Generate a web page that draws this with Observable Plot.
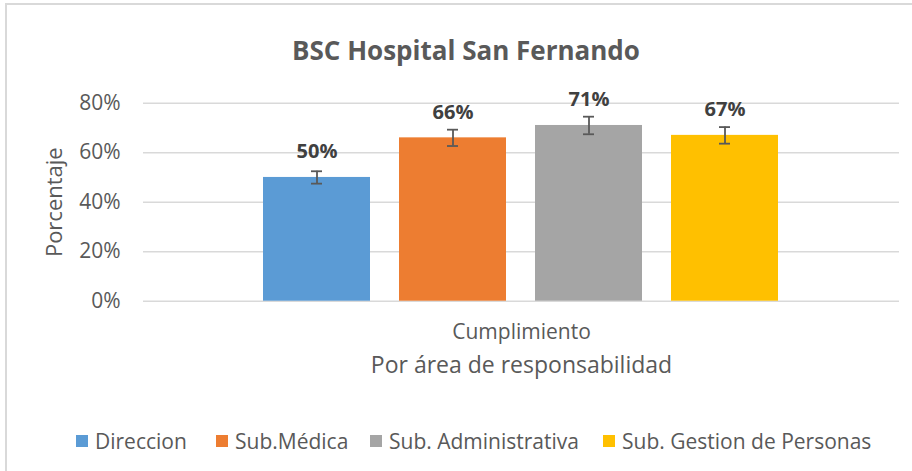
<!DOCTYPE html>
<html>
<head>
<meta charset="utf-8">
<script src="https://cdn.jsdelivr.net/npm/d3@7"></script>
<script src="https://cdn.jsdelivr.net/npm/@observablehq/plot@0.6"></script>
<style>
  html, body { margin: 0; padding: 0; background: #fff; }
  body { width: 912px; height: 471px; position: relative; overflow: hidden; font-family: "Open Sans", sans-serif; }
  .frame-top { position: absolute; left: 5px; top: 3px; width: 907px; height: 0; border-top: 2px solid #d9d9d9; }
  .frame-left { position: absolute; left: 5px; top: 3px; width: 0; height: 480px; border-left: 2px solid #d9d9d9; }
  #title { position: absolute; left: 10px; width: 912px; top: 32px; text-align: center; font-weight: bold; font-size: 26px; color: #595959; line-height: 36px; }
  #chart { position: absolute; left: 0; top: 60px; }
  #legend { position: absolute; left: 0; top: 427px; width: 912px; font-size: 21px; color: #595959; line-height: 28px; }
  .item { position: absolute; display: flex; align-items: center; white-space: nowrap; }
  .sw { width: 12px; height: 12px; margin-right: 7px; display: inline-block; }
</style>
</head>
<body>
<div class="frame-top"></div>
<div class="frame-left"></div>
<div id="title"></div>
<div id="chart"></div>
<div id="legend"></div>
<script>
const title = "BSC Hospital San Fernando";
const category = "Cumplimiento";
const series = ["Direccion", "Sub.Médica", "Sub. Administrativa", "Sub. Gestion de Personas"];
const values = [50, 66, 71, 67];
const errors = [2.5, 3.3, 3.55, 3.35];
const colors = ["#5B9BD5", "#ED7D31", "#A5A5A5", "#FFC000"];
const yTicks = [0, 20, 40, 60, 80];
const yLabel = "Porcentaje";
const xLabel = "Por área de responsabilidad";

const data = series.map((s, i) => ({
  group: category, series: s, value: values[i],
  lo: values[i] - errors[i], hi: values[i] + errors[i]
}));

document.getElementById("title").textContent = title;

const chart = Plot.plot({
  width: 912,
  height: 320,
  marginTop: 42.7,
  marginBottom: 79.3,
  marginLeft: 143,
  marginRight: 13,
  style: { fontFamily: "Open Sans, sans-serif", color: "#595959", background: "transparent" },
  fx: { domain: [category], padding: 0, label: null },
  x: { domain: series, paddingInner: 0.2117, paddingOuter: 0.865, axis: null },
  y: { domain: [0, 80], ticks: yTicks, axis: null },
  color: { domain: series, range: colors },
  marks: [
    Plot.gridY(yTicks, { stroke: "#d9d9d9", strokeOpacity: 1, strokeWidth: 1.6 }),
    Plot.axisY(yTicks, {
      tickSize: 0, tickPadding: 23, fontSize: 21, fill: "#595959",
      tickFormat: d => d + "%", label: null
    }),
    Plot.axisY(yTicks, {
      tickSize: 0, tickFormat: () => "", fontSize: 22, fill: "#595959",
      label: yLabel, labelAnchor: "center", labelArrow: "none", labelOffset: 97
    }),
    Plot.axisFx({
      anchor: "bottom", tickSize: 0, tickPadding: 23, fontSize: 21, fill: "#595959", label: null
    }),
    Plot.axisFx({
      anchor: "bottom", tickSize: 0, tickFormat: () => "", fontSize: 23, fill: "#595959",
      label: xLabel, labelAnchor: "center", labelArrow: "none", labelOffset: 72, dx: -8
    }),
    Plot.barY(data, { fx: "group", x: "series", y: "value", fill: "series" }),
    Plot.ruleX(data, { fx: "group", x: "series", y1: "lo", y2: "hi", stroke: "#595959", strokeWidth: 1.8 }),
    Plot.tickY(data, { fx: "group", x: "series", y: "lo", stroke: "#595959", strokeWidth: 1.8, inset: 48 }),
    Plot.tickY(data, { fx: "group", x: "series", y: "hi", stroke: "#595959", strokeWidth: 1.8, inset: 48 }),
    Plot.text(data, {
      fx: "group", x: "series", y: "value", text: d => d.value + "%",
      dy: -19, lineAnchor: "bottom", fontSize: 20, fontWeight: "bold", fill: "#404040"
    })
  ]
});
document.getElementById("chart").appendChild(chart);

const legend = document.getElementById("legend");
const lefts = [76, 216, 370, 603];
series.forEach((s, i) => {
  const it = document.createElement("div");
  it.className = "item";
  it.style.left = lefts[i] + "px";
  const sw = document.createElement("span");
  sw.className = "sw";
  sw.style.background = colors[i];
  const tx = document.createElement("span");
  tx.textContent = s;
  it.appendChild(sw); it.appendChild(tx);
  legend.appendChild(it);
});
</script>
</body>
</html>
